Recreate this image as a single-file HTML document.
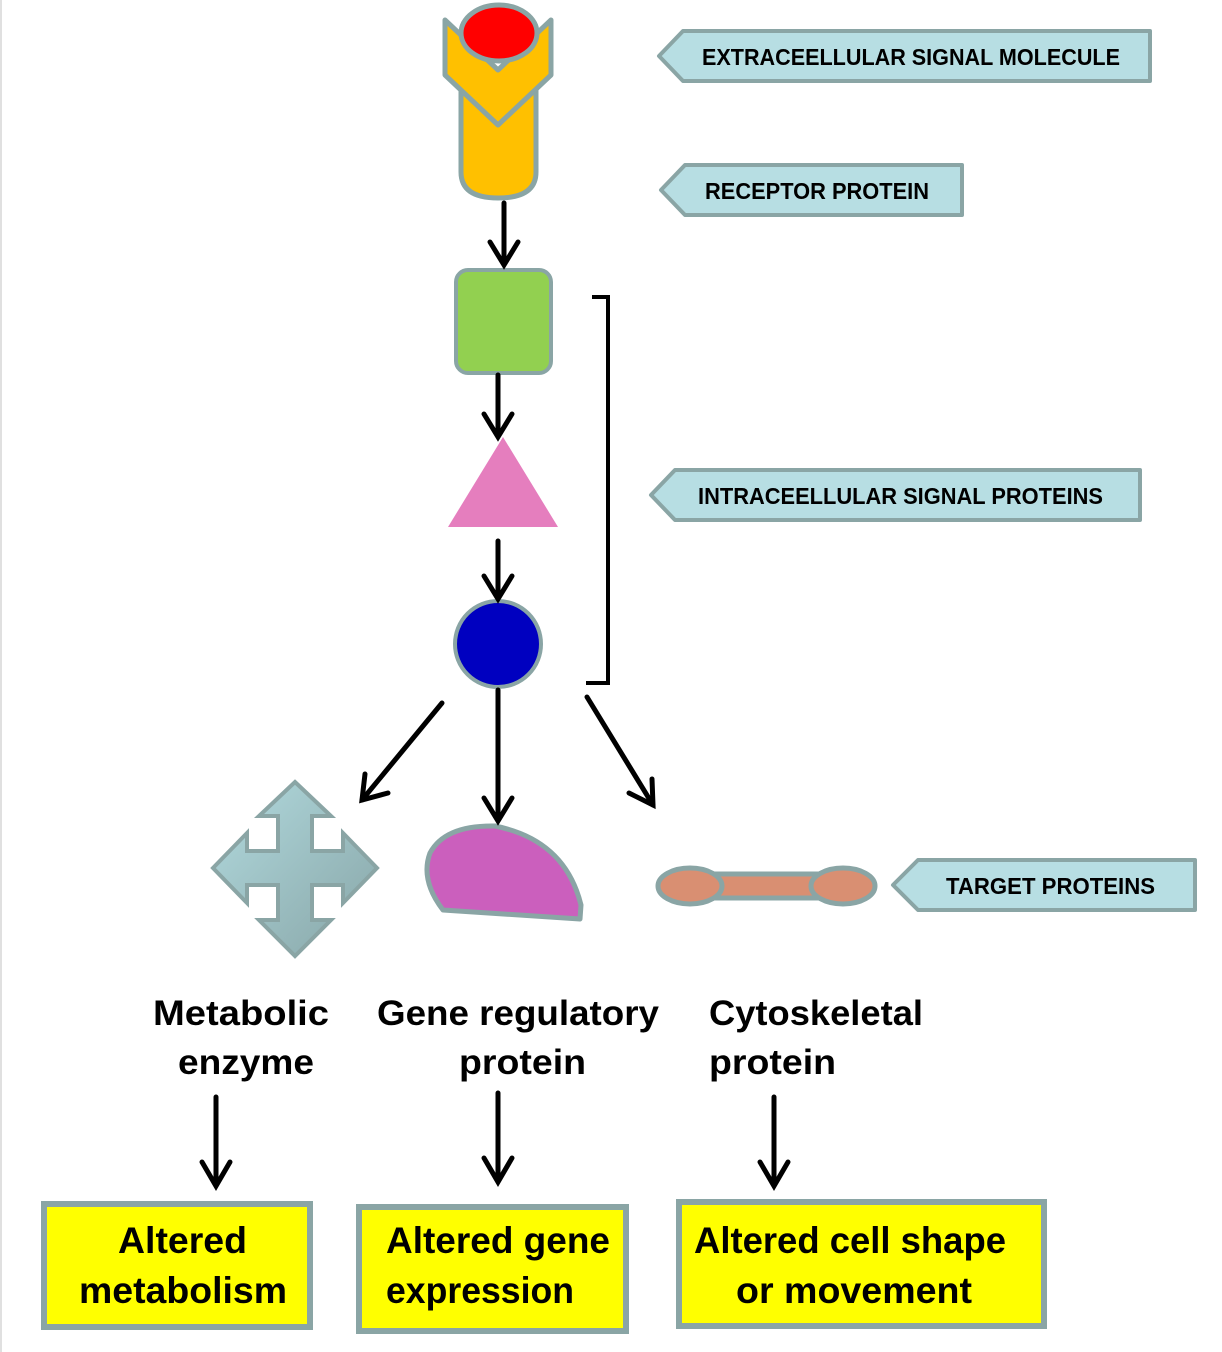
<!DOCTYPE html>
<html><head><meta charset="utf-8"><style>
html,body{margin:0;padding:0;background:#fff}
svg{display:block}
text{font-family:"Liberation Sans",sans-serif;font-weight:bold;fill:#000}
</style></head><body>
<svg width="1222" height="1352" viewBox="0 0 1222 1352">
<defs>
<linearGradient id="eg" x1="0" y1="0" x2="1" y2="1">
<stop offset="0" stop-color="#b2dade"/><stop offset="1" stop-color="#87a5a7"/></linearGradient>
</defs>
<line x1="1" y1="0" x2="1" y2="1352" stroke="#e0e0e0" stroke-width="2"/>

<g stroke="#8aa5a5" stroke-width="5" stroke-linejoin="round">
<path d="M461 80 L461 172 Q461 198 498 198 Q536 198 536 172 L536 80 Z" fill="#ffc000"/>
<polygon points="445,20 498,70 551,20 551,75 498,125 445,75" fill="#ffc000"/>
</g>
<ellipse cx="499" cy="33" rx="38" ry="28" fill="#ff0000" stroke="#8aa5a5" stroke-width="5"/>

<rect x="456" y="270" width="95" height="103" rx="12" fill="#92d050" stroke="#8aa5a5" stroke-width="4"/>
<polygon points="448,527 558,527 503,437" fill="#e57ebe"/>
<circle cx="498" cy="644" r="43" fill="#0000c0" stroke="#8aa5a5" stroke-width="4"/>
<polyline points="592,297 608,297 608,683 586,683" fill="none" stroke="#000" stroke-width="4"/>

<polygon fill="url(#eg)" stroke="#8aa5a5" stroke-width="4" stroke-linejoin="miter"
 points="295,782 331,816 312,816 312,851 343,851 343,833 377,868 343,903 343,885 312,885 312,920 331,920 295,956 259,920 278,920 278,885 247,885 247,903 213,868 247,833 247,851 278,851 278,816 259,816"/>
<path d="M443 910 Q420 880 430 853 Q445 825 495 826 Q565 840 581 905 L580 919 Z" fill="#cb5fbd" stroke="#8aa5a5" stroke-width="5" stroke-linejoin="round"/>
<g stroke="#8aa5a5" stroke-width="5" fill="#d98f72">
<rect x="700" y="874" width="140" height="24"/>
<ellipse cx="690" cy="886" rx="32" ry="18"/>
<ellipse cx="843" cy="886" rx="32" ry="18"/>
</g>

<g stroke="#8aa5a5" stroke-width="4" fill="#b7dee3" stroke-linejoin="round">
<polygon points="659,56 683,31 1150,31 1150,81 683,81"/>
<polygon points="661,190 685,165 962,165 962,215 685,215"/>
<polygon points="651,495 675,470 1140,470 1140,520 675,520"/>
<polygon points="893,885 918,860 1195,860 1195,910 918,910"/>
</g>
<text x="702" y="65" font-size="23" textLength="418" lengthAdjust="spacingAndGlyphs">EXTRACEELLULAR SIGNAL MOLECULE</text>
<text x="705" y="199" font-size="23" textLength="224" lengthAdjust="spacingAndGlyphs">RECEPTOR PROTEIN</text>
<text x="698" y="504" font-size="23" textLength="405" lengthAdjust="spacingAndGlyphs">INTRACEELLULAR SIGNAL PROTEINS</text>
<text x="946" y="894" font-size="23" textLength="209" lengthAdjust="spacingAndGlyphs">TARGET PROTEINS</text>

<g stroke="#000" stroke-width="5" fill="none" stroke-linecap="round" stroke-linejoin="miter">
<line x1="504" y1="203" x2="504" y2="264"/><polyline points="490,242 504,265 518,242"/>
<line x1="498" y1="375" x2="498" y2="436"/><polyline points="484,414 498,437 512,414"/>
<line x1="498" y1="541" x2="498" y2="598"/><polyline points="484,576 498,599 512,576"/>
<line x1="442" y1="703" x2="362" y2="800"/><polyline points="365,774 362,800 388,793"/>
<line x1="498" y1="690" x2="498" y2="820"/><polyline points="484,798 498,821 512,798"/>
<line x1="587" y1="697" x2="653" y2="805"/><polyline points="629,793 653,805 652,779"/>
<line x1="216" y1="1097" x2="216" y2="1185"/><polyline points="202,1162 216,1186 230,1162"/>
<line x1="498" y1="1093" x2="498" y2="1181"/><polyline points="484,1158 498,1182 512,1158"/>
<line x1="774" y1="1097" x2="774" y2="1185"/><polyline points="760,1162 774,1186 788,1162"/>
</g>

<g font-size="35">
<text x="153" y="1025" textLength="176" lengthAdjust="spacingAndGlyphs">Metabolic</text>
<text x="178" y="1074" textLength="136" lengthAdjust="spacingAndGlyphs">enzyme</text>
<text x="377" y="1025" textLength="282" lengthAdjust="spacingAndGlyphs">Gene regulatory</text>
<text x="459" y="1074" textLength="127" lengthAdjust="spacingAndGlyphs">protein</text>
<text x="709" y="1025" textLength="214" lengthAdjust="spacingAndGlyphs">Cytoskeletal</text>
<text x="709" y="1074" textLength="127" lengthAdjust="spacingAndGlyphs">protein</text>
</g>

<g fill="#ffff00" stroke="#8aa5a5" stroke-width="6">
<rect x="44" y="1204" width="266" height="123"/>
<rect x="359" y="1207" width="267" height="124"/>
<rect x="679" y="1202" width="365" height="124"/>
</g>
<g font-size="37">
<text x="118" y="1253" textLength="129" lengthAdjust="spacingAndGlyphs">Altered</text>
<text x="79" y="1303" textLength="208" lengthAdjust="spacingAndGlyphs">metabolism</text>
<text x="386" y="1253" textLength="224" lengthAdjust="spacingAndGlyphs">Altered gene</text>
<text x="386" y="1303" textLength="188" lengthAdjust="spacingAndGlyphs">expression</text>
<text x="694" y="1253" textLength="312" lengthAdjust="spacingAndGlyphs">Altered cell shape</text>
<text x="736" y="1303" textLength="236" lengthAdjust="spacingAndGlyphs">or movement</text>
</g>
</svg>
</body></html>
